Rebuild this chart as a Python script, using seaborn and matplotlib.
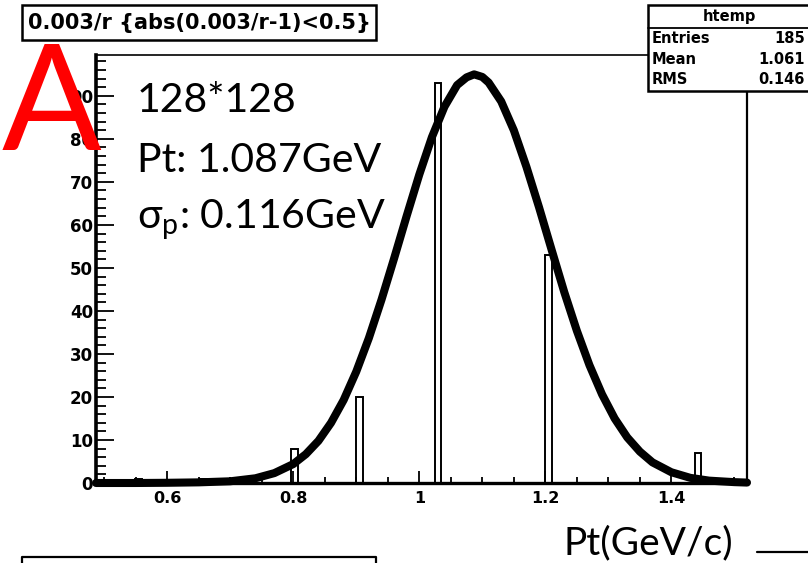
import numpy as np
import pandas as pd
import matplotlib
matplotlib.use("Agg")
import matplotlib.pyplot as plt
import seaborn as sns
from matplotlib.patches import Rectangle
from matplotlib.lines import Line2D
from matplotlib.ticker import MultipleLocator, FixedLocator

# ---------------- data ----------------
bin_centers = [0.554, 0.657, 0.802, 0.905, 1.029, 1.205, 1.442]
bin_counts = [1, 1, 8, 20, 93, 53, 7]
n_bins = 100
x_range = (0.487, 1.520)
y_max = 99.5

# fitted curve
fit_x = [0.487, 0.55, 0.60, 0.65, 0.70, 0.74, 0.77, 0.80, 0.82, 0.84, 0.86,
         0.88, 0.90, 0.92, 0.94, 0.96, 0.98, 1.00, 1.02, 1.04, 1.06, 1.075,
         1.087, 1.10, 1.11, 1.13, 1.15, 1.17, 1.19, 1.21, 1.23, 1.25, 1.27,
         1.29, 1.31, 1.33, 1.35, 1.37, 1.40, 1.43, 1.46, 1.50, 1.52]
fit_y = [0.0, 0.0, 0.05, 0.15, 0.4, 1.1, 2.3, 4.4, 6.7, 9.8, 14.0,
         19.3, 25.9, 33.7, 42.6, 52.2, 62.1, 71.7, 80.4, 87.5, 92.5, 94.3,
         95.0, 94.4, 93.1, 88.7, 82.0, 73.5, 64.1, 54.2, 44.4, 35.4, 27.4,
         20.6, 15.0, 10.6, 7.3, 4.8, 2.5, 1.2, 0.55, 0.2, 0.1]

x_tick_vals = [0.6, 0.8, 1.0, 1.2, 1.4]
x_tick_labels = ["0.6", "0.8", "1", "1.2", "1.4"]
y_tick_vals = [0, 10, 20, 30, 40, 50, 60, 70, 80, 90]
y_tick_labels = ["0", "10", "20", "30", "40", "50", "60", "70", "80", "90"]

title_text = "0.003/r {abs(0.003/r-1)<0.5}"
stats_name = "htemp"
stats_keys = ["Entries", "Mean", "RMS"]
stats_vals = ["185", "1.061", "0.146"]
note_lines = ["128*128", "Pt: 1.087GeV", r"σ$_\mathregular{p}$: 0.116GeV"]
x_label = "Pt(GeV/c)"
panel_letter = "A"

# ---------------- figure ----------------
sns.set_style("ticks")
plt.rcParams["font.family"] = ["DejaVu Sans"]
plt.rcParams["text.color"] = "black"
plt.rcParams["xtick.labelcolor"] = "black"
plt.rcParams["ytick.labelcolor"] = "black"
plt.rcParams["xtick.color"] = "black"
plt.rcParams["ytick.color"] = "black"

W, H = 808, 563
fig = plt.figure(figsize=(W / 100, H / 100), dpi=100)

def fx(x):
    return x / W

def fy(y):
    return 1 - y / H

ax = fig.add_axes([fx(96), fy(483), fx(747) - fx(96), fy(55) - fy(483)])

sns.histplot(x=bin_centers, weights=bin_counts, bins=n_bins, binrange=x_range,
             fill=False, element="bars", color="black", linewidth=1.4, ax=ax)
sns.lineplot(x=fit_x, y=fit_y, color="black", linewidth=5.8, ax=ax,
             sort=False, clip_on=False, zorder=5)
for ln in ax.lines:
    ln.set_solid_joinstyle("round")
    ln.set_solid_capstyle("round")

ax.set_xlim(*x_range)
ax.set_ylim(0, y_max)
ax.set_xlabel("")
ax.set_ylabel("")

ax.xaxis.set_major_locator(FixedLocator(x_tick_vals))
ax.set_xticklabels(x_tick_labels)
ax.xaxis.set_minor_locator(MultipleLocator(0.05))
ax.yaxis.set_major_locator(FixedLocator(y_tick_vals))
ax.set_yticklabels(y_tick_labels)
ax.yaxis.set_minor_locator(MultipleLocator(2))

ax.tick_params(axis="both", which="both", direction="in", top=False, right=False,
               color="black", labelcolor="black", width=1.3)
ax.tick_params(axis="x", which="major", length=9, pad=6, labelsize=11.5)
ax.tick_params(axis="x", which="minor", length=4.5)
ax.tick_params(axis="y", which="major", length=13, pad=2, labelsize=12)
ax.tick_params(axis="y", which="minor", length=7)
for lab in ax.get_xticklabels() + ax.get_yticklabels():
    lab.set_fontweight("bold")
    lab.set_family(["DejaVu Sans"])
    lab.set_color("black")

for side, lw in [("left", 2.6), ("bottom", 2.4), ("top", 1.2), ("right", 1.6)]:
    ax.spines[side].set_visible(True)
    ax.spines[side].set_linewidth(lw)
    ax.spines[side].set_color("black")

# ---------------- title box ----------------
fig.add_artist(Rectangle((fx(22), fy(40)), fx(376) - fx(22), fy(5) - fy(40),
                         transform=fig.transFigure, facecolor="white",
                         edgecolor="black", linewidth=1.8, zorder=10))
fig.text(fx(199), fy(23), title_text, ha="center", va="center",
         fontsize=15, fontweight="bold", color="black", zorder=11)

# ---------------- stats box ----------------
fig.add_artist(Rectangle((fx(648), fy(91)), fx(812) - fx(648), fy(5) - fy(91),
                         transform=fig.transFigure, facecolor="white",
                         edgecolor="black", linewidth=1.8, zorder=10))
fig.add_artist(Line2D([fx(648), fx(808)], [fy(28), fy(28)],
                      transform=fig.transFigure, color="black", linewidth=1.3,
                      zorder=11))
fig.text(fx(729), fy(16.5), stats_name, ha="center", va="center",
         fontsize=10.5, fontweight="bold", color="black", zorder=12)
for i, (k, v) in enumerate(zip(stats_keys, stats_vals)):
    yy = fy(38.5 + 20.5 * i)
    fig.text(fx(652), yy, k, ha="left", va="center", fontsize=10.5,
             fontweight="bold", color="black", zorder=12)
    fig.text(fx(805), yy, v, ha="right", va="center", fontsize=10.5,
             fontweight="bold", color="black", zorder=12)

# ---------------- annotations ----------------
for txt, yb in zip(note_lines, [112, 172, 228]):
    fig.text(fx(137), fy(yb), txt, ha="left", va="baseline", fontsize=29.5,
             color="black", family=["Lato", "DejaVu Sans"], zorder=12)
fig.text(fx(733), fy(554), x_label, ha="right", va="baseline", fontsize=28,
         color="black", family=["Lato", "DejaVu Sans"], zorder=12)
fig.text(fx(2), fy(150), panel_letter, ha="left", va="baseline", fontsize=106,
         color="#ff0000", family=["Lato", "DejaVu Sans"], zorder=13)

# ---------------- clipped fragments of neighbouring panels ----------------
fig.add_artist(Line2D([fx(22), fx(22), fx(376), fx(376)],
                      [fy(563), fy(557), fy(557), fy(563)],
                      transform=fig.transFigure, color="black", linewidth=1.6,
                      zorder=10))
fig.add_artist(Line2D([fx(757), fx(808)], [fy(552), fy(552)],
                      transform=fig.transFigure, color="black", linewidth=1.6,
                      zorder=10))

fig.savefig("out.png", dpi=100)
